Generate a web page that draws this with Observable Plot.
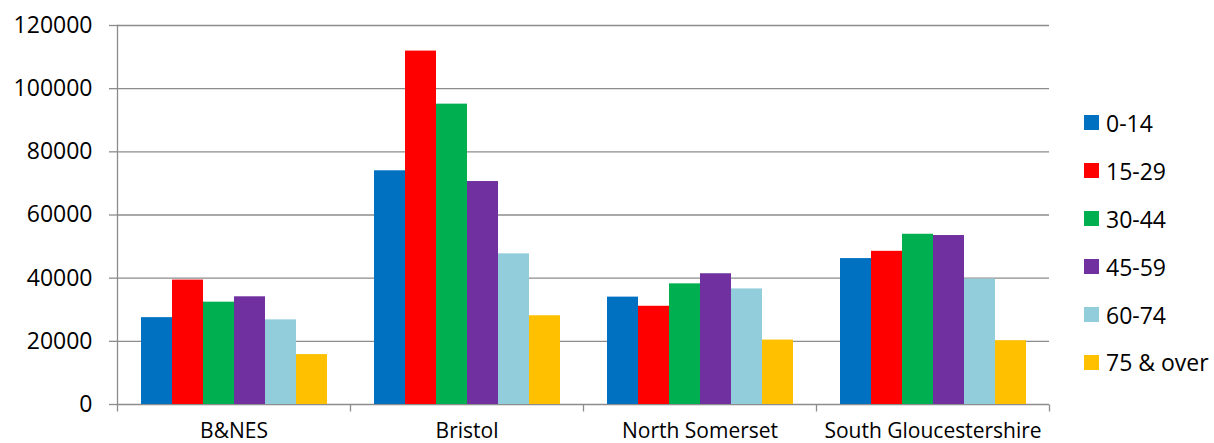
<!DOCTYPE html>
<html>
<head>
<meta charset="utf-8">
<script src="https://cdn.jsdelivr.net/npm/d3@7"></script>
<script src="https://cdn.jsdelivr.net/npm/@observablehq/plot@0.6"></script>
<style>
  body { margin: 0; background: #fff; font-family: "Open Sans", sans-serif; }
  #chart { position: relative; width: 1214px; height: 443px; }
  #legend { position: absolute; left: 1084px; top: 99px; }
  .item { display: flex; align-items: center; height: 47.9px; font-size: 23px; color: #000; white-space: nowrap; }
  .swatch { width: 15px; height: 15px; margin-right: 7px; flex: none; }
</style>
</head>
<body>
<div id="chart"><div id="legend"></div></div>
<script>
// Districts along the x axis, age bands within each district
const districts = ["B&NES", "Bristol", "North Somerset", "South Gloucestershire"];
const ageGroups = ["0-14", "15-29", "30-44", "45-59", "60-74", "75 & over"];
const ageColors = ["#0070c0", "#ff0000", "#00b050", "#7030a0", "#92cddc", "#ffc000"];

// Population by age band, one array per district (same order as ageGroups)
const bnes = [27500, 39400, 32400, 34100, 26800, 15800];
const bristol = [74000, 111900, 95100, 70600, 47700, 28100];
const northSomerset = [34000, 31100, 38200, 41400, 36600, 20400];
const southGloucestershire = [46200, 48500, 53900, 53500, 39700, 20200];

const yTicks = [0, 20000, 40000, 60000, 80000, 100000, 120000];

const seriesByDistrict = [bnes, bristol, northSomerset, southGloucestershire];
const table = districts.flatMap((district, i) =>
  seriesByDistrict[i].map((value, j) => ({district, age: ageGroups[j], value}))
);

const lineColor = "#8c8c8c";

// Short downward tick used at the category boundaries
const downTick = {
  draw(context) {
    context.moveTo(0, 0);
    context.lineTo(0, 7);
  }
};

const chart = Plot.plot({
  width: 1214,
  height: 443,
  marginLeft: 115,
  marginRight: 164,
  marginTop: 25,
  marginBottom: 39,
  style: {fontFamily: "'Open Sans', sans-serif", fontSize: "21px", color: "#000", background: "#fff", overflow: "visible"},
  fx: {domain: districts, padding: 0, label: null},
  x: {domain: ageGroups, paddingInner: 0, paddingOuter: 0.75, axis: null},
  y: {domain: [0, 120000], label: null},
  color: {domain: ageGroups, range: ageColors},
  marks: [
    Plot.ruleY(yTicks, {stroke: lineColor, strokeWidth: 1.3}),
    Plot.barY(table, {fx: "district", x: "age", y: "value", fill: "age"}),
    Plot.frame({anchor: "left", facetAnchor: "left", stroke: lineColor, strokeWidth: 1.3}),
    Plot.dot([null], {frameAnchor: "bottom-left", symbol: downTick, stroke: lineColor, strokeWidth: 1.3, fill: "none"}),
    Plot.dot([null], {frameAnchor: "bottom-right", facetAnchor: "right", symbol: downTick, stroke: lineColor, strokeWidth: 1.3, fill: "none"}),
    Plot.axisY(yTicks, {tickSize: 8, tickPadding: 17, tickFormat: "d", label: null, stroke: lineColor, strokeWidth: 1.3, fill: "#000", fontSize: 23}),
    Plot.axisFx({anchor: "bottom", tickSize: 0, tickPadding: 19, label: null, fill: "#000"})
  ]
});

document.getElementById("chart").prepend(chart);

const legend = d3.select("#legend");
ageGroups.forEach((age, i) => {
  const item = legend.append("div").attr("class", "item");
  item.append("div").attr("class", "swatch").style("background", ageColors[i]);
  item.append("span").text(age);
});
</script>
</body>
</html>
